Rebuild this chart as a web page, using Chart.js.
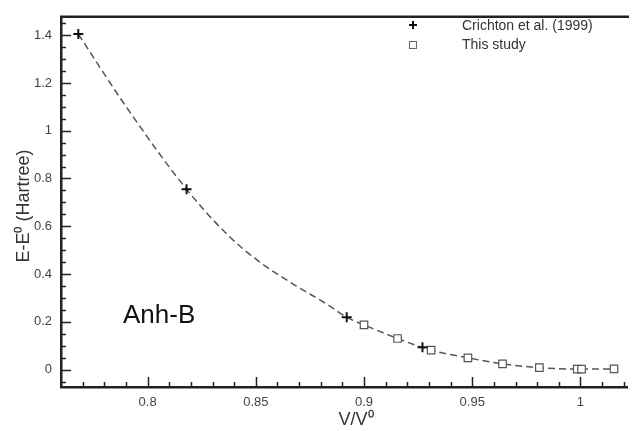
<!DOCTYPE html>
<html>
<head>
<meta charset="utf-8">
<script src="https://cdn.jsdelivr.net/npm/chart.js@4"></script>
<style>
  html, body { margin: 0; padding: 0; background: #fff; }
  #chart { display: block; }
</style>
</head>
<body>
<canvas id="chart" width="634" height="431"></canvas>
<script>
// Energy vs volume, Anh-B

const crichtonV = [0.768, 0.818, 0.892, 0.927];
const crichtonE = [1.405, 0.755, 0.219, 0.093];

const studyV = [0.900, 0.9155, 0.931, 0.948, 0.964, 0.981, 0.9985, 1.0005, 1.0155];
const studyE = [0.187, 0.130, 0.081, 0.049, 0.024, 0.008, 0.002, 0.002, 0.003];

// dashed fit curve
const fitV = [0.768, 0.789, 0.818, 0.837, 0.852, 0.868, 0.883, 0.892, 0.900, 0.9155, 0.931, 0.948, 0.964, 0.981, 0.999, 1.0155];
const fitE = [1.405, 1.115, 0.755, 0.564, 0.449, 0.354, 0.273, 0.219, 0.187, 0.130, 0.081, 0.049, 0.024, 0.008, 0.002, 0.003];

const xTicks = [0.8, 0.85, 0.9, 0.95, 1];
const yTicks = [0, 0.2, 0.4, 0.6, 0.8, 1, 1.2, 1.4];

const legendLabels = ['Crichton et al. (1999)', 'This study'];
const panelLabel = 'Anh-B';
const xTitle = 'V/V\u2070';
const yTitle = 'E-E\u2070 (Hartree)';

const FONT = '"Liberation Sans", Arial, Helvetica, sans-serif';
const INK = '#222';

function toXY(xs, ys) {
  return xs.map((x, i) => ({ x: x, y: ys[i] }));
}

// inward tick marks, top frame line, legend, labels and titles
const decorations = {
  id: 'decorations',
  afterDraw(chart) {
    const ctx = chart.ctx;
    const area = chart.chartArea;
    const xs = chart.scales.x;
    const ys = chart.scales.y;
    ctx.save();
    ctx.strokeStyle = INK;

    // top frame line
    ctx.lineWidth = 2.5;
    ctx.beginPath();
    ctx.moveTo(area.left - 1, area.top);
    ctx.lineTo(area.right + 2, area.top);
    ctx.stroke();

    ctx.lineWidth = 1.5;
    // x ticks
    for (let v = 0.77; v < xs.max; v += 0.01) {
      const val = Math.round(v * 100) / 100;
      const major = xTicks.some(t => Math.abs(t - val) < 1e-6);
      const px = Math.round(xs.getPixelForValue(val)) + 0.5;
      ctx.beginPath();
      ctx.moveTo(px, area.bottom);
      ctx.lineTo(px, area.bottom - (major ? 10 : 5));
      ctx.stroke();
    }
    // y ticks
    for (let v = -0.05; v < ys.max; v += 0.05) {
      const val = Math.round(v * 100) / 100;
      const major = yTicks.some(t => Math.abs(t - val) < 1e-6);
      const py = Math.round(ys.getPixelForValue(val)) + 0.5;
      ctx.beginPath();
      ctx.moveTo(area.left, py);
      ctx.lineTo(area.left + (major ? 10 : 5), py);
      ctx.stroke();
    }

    // legend
    ctx.strokeStyle = '#111';
    ctx.lineWidth = 2;
    ctx.beginPath();
    ctx.moveTo(409, 25); ctx.lineTo(417, 25);
    ctx.moveTo(413, 21); ctx.lineTo(413, 29);
    ctx.stroke();
    ctx.strokeStyle = '#666';
    ctx.lineWidth = 1;
    ctx.strokeRect(409.5, 41.5, 7, 7);
    ctx.fillStyle = '#333';
    ctx.font = '14px ' + FONT;
    ctx.textAlign = 'left';
    ctx.textBaseline = 'middle';
    ctx.fillText(legendLabels[0], 462, 26);
    ctx.fillText(legendLabels[1], 462, 45);

    // panel label
    ctx.fillStyle = '#111';
    ctx.font = '26px ' + FONT;
    ctx.textBaseline = 'alphabetic';
    ctx.fillText(panelLabel, 123, 323);

    // axis titles
    ctx.fillStyle = '#333';
    ctx.font = '18px ' + FONT;
    ctx.textAlign = 'center';
    ctx.fillText(xTitle, 356, 425);
    ctx.translate(29, 206);
    ctx.rotate(-Math.PI / 2);
    ctx.fillText(yTitle, 0, 0);
    ctx.restore();
  }
};

new Chart(document.getElementById('chart'), {
  type: 'scatter',
  data: {
    datasets: [
      {
        label: 'fit',
        data: toXY(fitV, fitE),
        showLine: true,
        borderColor: '#555',
        borderWidth: 1.5,
        borderDash: [7, 4],
        cubicInterpolationMode: 'monotone',
        pointRadius: 0,
        order: 3
      },
      {
        label: legendLabels[1],
        data: toXY(studyV, studyE),
        pointStyle: 'rect',
        pointRadius: 5.3,
        borderColor: '#555',
        backgroundColor: '#fff',
        borderWidth: 1.2,
        order: 2
      },
      {
        label: legendLabels[0],
        data: toXY(crichtonV, crichtonE),
        pointStyle: 'cross',
        pointRadius: 5,
        borderColor: '#111',
        borderWidth: 2,
        order: 1
      }
    ]
  },
  options: {
    responsive: false,
    animation: false,
    events: [],
    layout: { padding: { top: 5, right: 1, left: 0, bottom: 0 } },
    plugins: {
      legend: { display: false },
      tooltip: { enabled: false }
    },
    scales: {
      x: {
        type: 'linear',
        min: 0.76,
        max: 1.0215,
        afterBuildTicks: s => { s.ticks = xTicks.map(v => ({ value: v })); },
        afterFit: s => { s.height = 44; },
        grid: { display: false, drawTicks: false },
        border: { display: true, width: 2.5, color: INK },
        ticks: {
          padding: 8,
          color: '#444',
          font: { family: FONT, size: 13 },
          callback: v => String(v)
        }
      },
      y: {
        type: 'linear',
        min: -0.073,
        max: 1.477,
        afterBuildTicks: s => { s.ticks = yTicks.map(v => ({ value: v })); },
        afterFit: s => { s.width = 61; },
        grid: { display: false, drawTicks: false },
        border: { display: true, width: 2.5, color: INK },
        ticks: {
          padding: 9,
          color: '#444',
          font: { family: FONT, size: 13 },
          callback: v => String(v)
        }
      }
    }
  },
  plugins: [decorations]
});
</script>
</body>
</html>
